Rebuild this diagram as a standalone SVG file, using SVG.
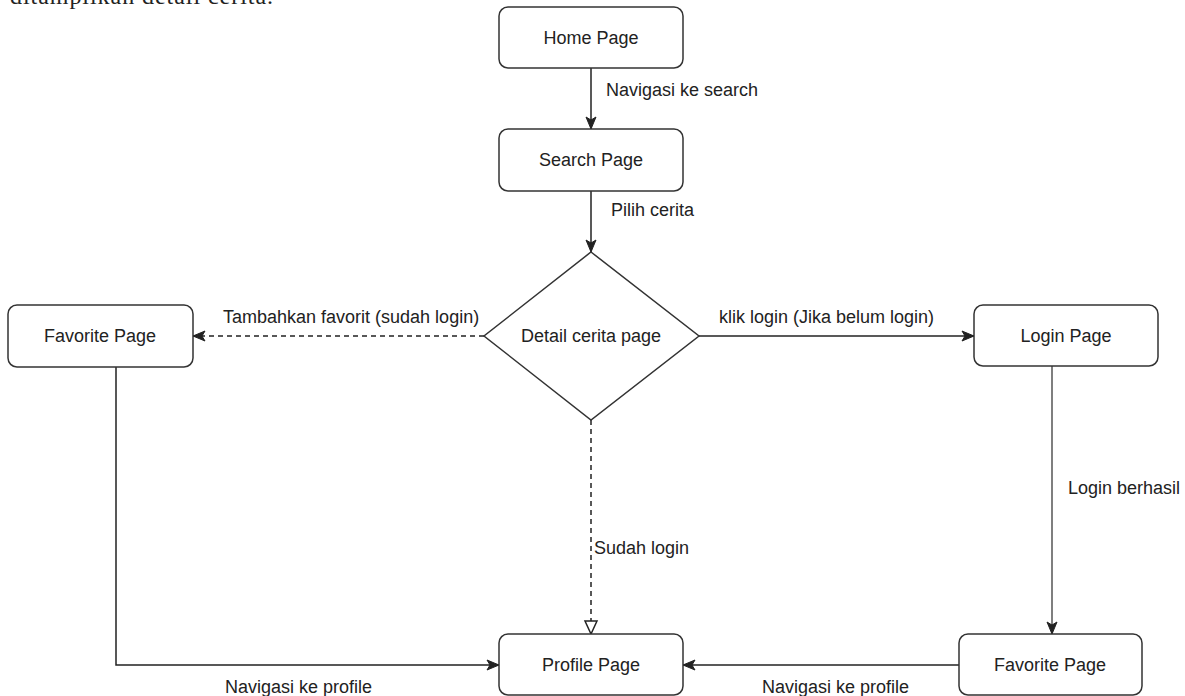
<svg xmlns="http://www.w3.org/2000/svg" width="1185" height="696" viewBox="0 0 1185 696">
<style>
.node{fill:#fff;stroke:#333;stroke-width:1.5}
.t{font-family:"Liberation Sans",Arial,sans-serif;font-size:18px;fill:#222}
.c{text-anchor:middle}
.e{fill:none;stroke:#222;stroke-width:1.5}
.d{stroke-dasharray:5 4}
</style>
<defs>
<marker id="arr" markerUnits="userSpaceOnUse" markerWidth="14" markerHeight="12" refX="13" refY="6" orient="auto">
<path d="M1,1 L13,6 L1,11 L4,6 z" fill="#222" stroke="#222" stroke-width="1"/>
</marker>
<marker id="tri" markerUnits="userSpaceOnUse" markerWidth="16" markerHeight="16" refX="14" refY="8" orient="auto">
<path d="M1,2 L14,8 L1,14 z" fill="#fff" stroke="#222" stroke-width="1.5"/>
</marker>
</defs>
<rect width="1185" height="696" fill="#fff"/>
<text x="10" y="4" font-family="'Liberation Serif','Times New Roman',serif" font-size="24" fill="#222" textLength="263" lengthAdjust="spacing">ditampilkan detail cerita.</text>
<g id="connectors">
<path class="e" d="M591,68 L591,129" marker-end="url(#arr)"/>
<path class="e" d="M591,191 L591,252" marker-end="url(#arr)"/>
<path class="e d" d="M484,336 L193,336" marker-end="url(#arr)"/>
<path class="e" d="M699,336 L974,336" marker-end="url(#arr)"/>
<path class="e d" d="M591,420 L591,634" marker-end="url(#tri)"/>
<path class="e" d="M116,367 L116,665 L499,665" marker-end="url(#arr)"/>
<path class="e" style="stroke:#555" d="M1052,366 L1052,634" marker-end="url(#arr)"/>
<path class="e" d="M959,665 L683,665" marker-end="url(#arr)"/>
<text class="t" x="606" y="96">Navigasi ke search</text>
<text class="t" x="611" y="216">Pilih cerita</text>
<text class="t" x="223" y="323">Tambahkan favorit (sudah login)</text>
<text class="t" x="719" y="323">klik login (Jika belum login)</text>
<rect x="593" y="538" width="102" height="22" fill="#fff"/>
<text class="t" x="594" y="554">Sudah login</text>
<text class="t" x="1068" y="494">Login berhasil</text>
<text class="t" x="225" y="693">Navigasi ke profile</text>
<text class="t" x="762" y="693">Navigasi ke profile</text>
</g>
<g id="home"><rect class="node" x="499" y="7" width="184" height="61" rx="9"/><text class="t c" x="591" y="44">Home Page</text></g>
<g id="search"><rect class="node" x="499" y="129" width="184" height="62" rx="9"/><text class="t c" x="591" y="166">Search Page</text></g>
<g id="detail"><polygon class="node" points="591,252 699,336 591,420 484,336"/><text class="t c" x="591" y="342">Detail cerita page</text></g>
<g id="favorite-left"><rect class="node" x="8" y="305" width="185" height="62" rx="9"/><text class="t c" x="100" y="342">Favorite Page</text></g>
<g id="login"><rect class="node" x="974" y="305" width="184" height="61" rx="9"/><text class="t c" x="1066" y="342">Login Page</text></g>
<g id="profile"><rect class="node" x="499" y="634" width="184" height="61" rx="9"/><text class="t c" x="591" y="671">Profile Page</text></g>
<g id="favorite-right"><rect class="node" x="959" y="634" width="183" height="61" rx="9"/><text class="t c" x="1050" y="671">Favorite Page</text></g>
</svg>
